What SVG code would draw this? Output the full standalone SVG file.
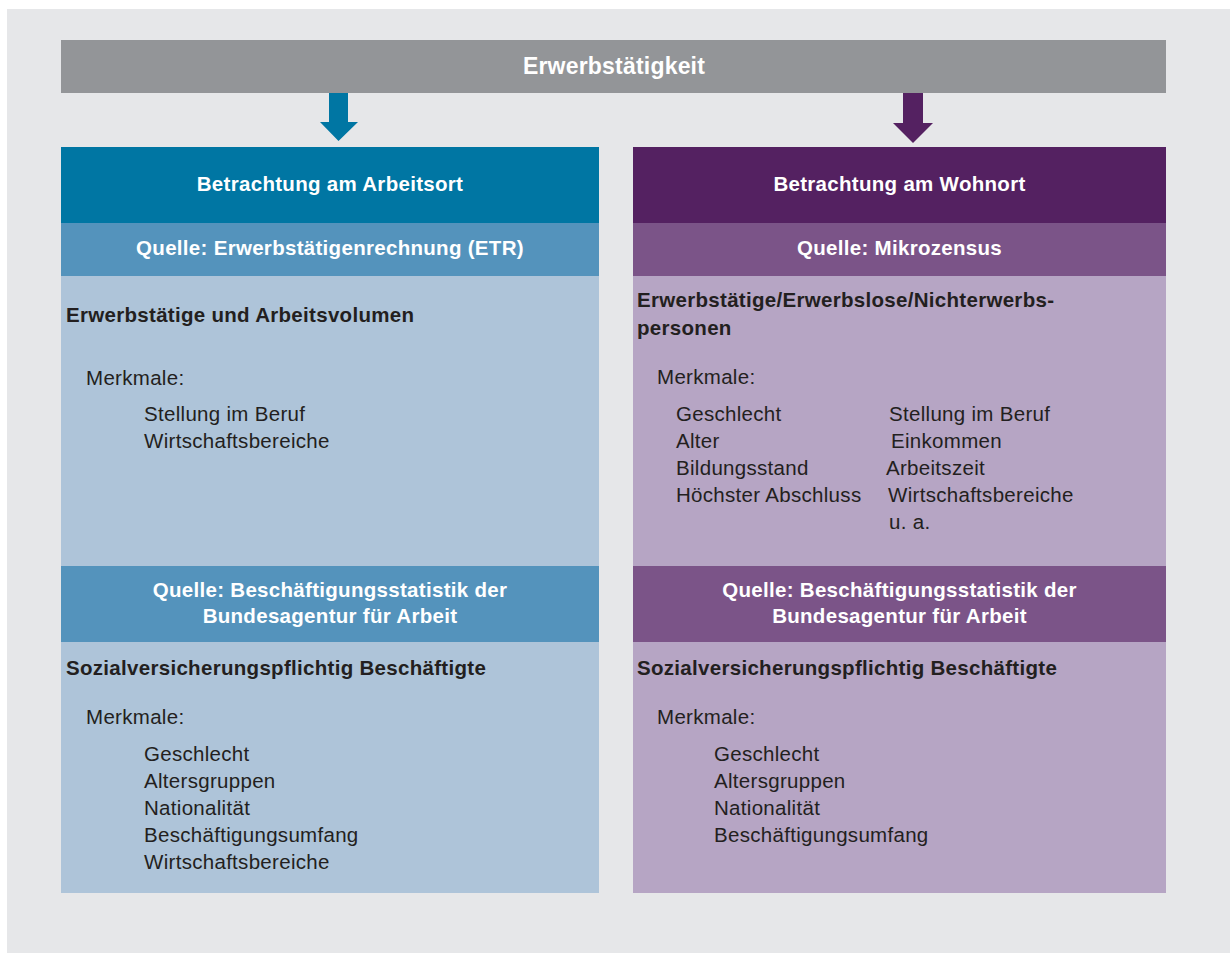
<svg xmlns="http://www.w3.org/2000/svg" width="1230" height="953" viewBox="0 0 1230 953">
<style>
text{font-family:"Liberation Sans",Arial,sans-serif;font-size:20.5px;letter-spacing:0.3px;fill:#231F20}
.b{font-weight:bold}
.w{fill:#FFFFFF;font-weight:bold}
.c{text-anchor:middle}
.t{font-size:23px;letter-spacing:0.2px}
.bh{fill:#0076A3}.bm{fill:#5493BC}.bl{fill:#AEC4D9}
.ph{fill:#542161}.pm{fill:#7B5488}.pl{fill:#B6A5C4}
</style>
<rect x="7" y="9" width="1223" height="944" fill="#E6E7E9"/>
<g id="top">
<rect x="61" y="40" width="1105" height="53" fill="#939598"/>
<text class="w c t" x="614" y="74">Erwerbstätigkeit</text>
</g>
<g id="connectors">
<polygon class="bh" points="329,93 348,93 348,122 358,122 338.5,141 320,122 329,122"/>
<polygon class="ph" points="903,93 923,93 923,123 933,123 913,143 893,123 903,123"/>
</g>
<g id="left-header">
<rect class="bh" x="61" y="147" width="538" height="76"/>
<text class="w c" x="330" y="191">Betrachtung am Arbeitsort</text>
</g>
<g id="left-etr">
<rect class="bm" x="61" y="223" width="538" height="53"/>
<text class="w c" x="330" y="255">Quelle: Erwerbstätigenrechnung (ETR)</text>
<rect class="bl" x="61" y="276" width="538" height="290"/>
<text class="b" x="66" y="322">Erwerbstätige und Arbeitsvolumen</text>
<text x="86" y="385">Merkmale:</text>
<text x="144" y="421">Stellung im Beruf</text>
<text x="144" y="448">Wirtschaftsbereiche</text>
</g>
<g id="left-ba">
<rect class="bm" x="61" y="566" width="538" height="76"/>
<text class="w c" x="330" y="597">Quelle: Beschäftigungsstatistik der</text>
<text class="w c" x="330" y="623">Bundesagentur für Arbeit</text>
<rect class="bl" x="61" y="642" width="538" height="251"/>
<text class="b" x="66" y="675">Sozialversicherungspflichtig Beschäftigte</text>
<text x="86" y="724">Merkmale:</text>
<text x="144" y="761">Geschlecht</text>
<text x="144" y="788">Altersgruppen</text>
<text x="144" y="815">Nationalität</text>
<text x="144" y="842">Beschäftigungsumfang</text>
<text x="144" y="869">Wirtschaftsbereiche</text>
</g>
<g id="right-header">
<rect class="ph" x="633" y="147" width="533" height="76"/>
<text class="w c" x="899.5" y="191">Betrachtung am Wohnort</text>
</g>
<g id="right-mz">
<rect class="pm" x="633" y="223" width="533" height="53"/>
<text class="w c" x="899.5" y="255">Quelle: Mikrozensus</text>
<rect class="pl" x="633" y="276" width="533" height="290"/>
<text class="b" x="637" y="307">Erwerbstätige/Erwerbslose/Nichterwerbs-</text>
<text class="b" x="637" y="335">personen</text>
<text x="657" y="384">Merkmale:</text>
<text x="676" y="421">Geschlecht</text>
<text x="676" y="448">Alter</text>
<text x="676" y="475">Bildungsstand</text>
<text x="676" y="502">Höchster Abschluss</text>
<text x="889" y="421">Stellung im Beruf</text>
<text x="891" y="448">Einkommen</text>
<text x="886" y="475">Arbeitszeit</text>
<text x="888" y="502">Wirtschaftsbereiche</text>
<text x="889" y="529">u. a.</text>
</g>
<g id="right-ba">
<rect class="pm" x="633" y="566" width="533" height="76"/>
<text class="w c" x="899.5" y="597">Quelle: Beschäftigungsstatistik der</text>
<text class="w c" x="899.5" y="623">Bundesagentur für Arbeit</text>
<rect class="pl" x="633" y="642" width="533" height="251"/>
<text class="b" x="637" y="675">Sozialversicherungspflichtig Beschäftigte</text>
<text x="657" y="724">Merkmale:</text>
<text x="714" y="761">Geschlecht</text>
<text x="714" y="788">Altersgruppen</text>
<text x="714" y="815">Nationalität</text>
<text x="714" y="842">Beschäftigungsumfang</text>
</g>
</svg>
